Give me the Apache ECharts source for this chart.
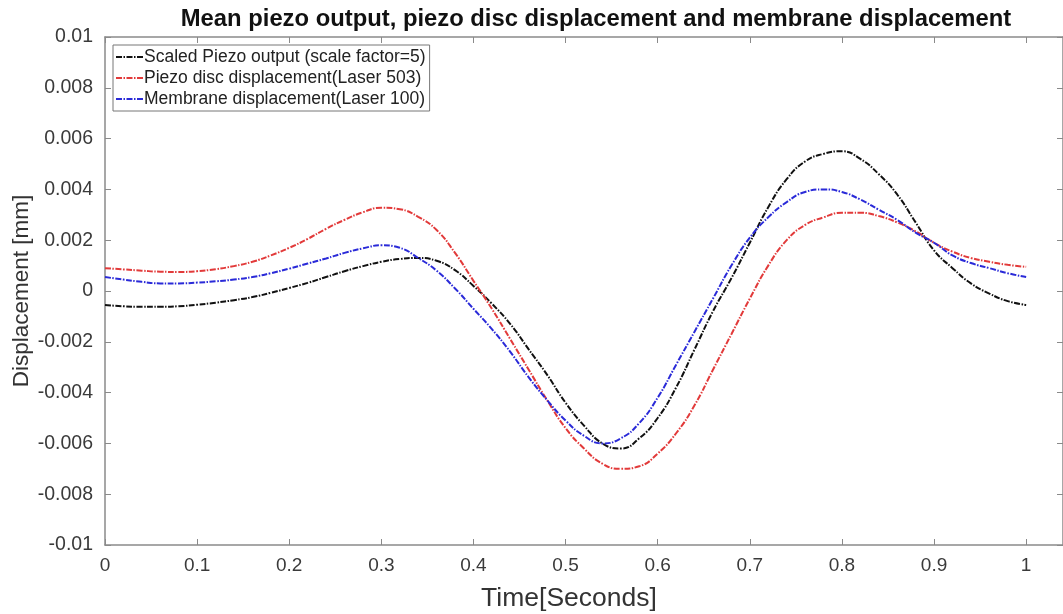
<!DOCTYPE html>
<html>
<head>
<meta charset="utf-8">
<script src="https://cdn.jsdelivr.net/npm/echarts@6/dist/echarts.min.js"></script>
<style>
html,body{margin:0;padding:0;background:#fff;}
#chart{width:1063px;height:614px;}
</style>
</head>
<body>
<div id="chart"></div>
<script>
// Time samples (seconds)
const timeValues = [0,0.02,0.04,0.06,0.08,0.10,0.12,0.14,0.16,0.18,0.20,0.22,0.24,0.26,0.28,0.30,0.32,0.34,0.36,0.38,0.40,0.42,0.44,0.46,0.48,0.50,0.52,0.54,0.56,0.58,0.60,0.62,0.64,0.66,0.68,0.70,0.72,0.74,0.76,0.78,0.80,0.82,0.84,0.86,0.88,0.90,0.92,0.94,0.96,0.98,1.00];

const scaledPiezo = [-0.00055,-0.0006,-0.00062,-0.00062,-0.0006,-0.00054,-0.00046,-0.00036,-0.00024,-0.00007,0.00012,0.00032,0.00055,0.00078,0.00098,0.00115,0.00126,0.0013,0.00119,0.00082,0.0002,-0.0005,-0.0013,-0.0023,-0.0033,-0.0044,-0.0053,-0.0060,-0.0062,-0.0058,-0.0050,-0.0038,-0.0023,-0.0008,0.0005,0.0019,0.0033,0.0044,0.0051,0.0054,0.0055,0.0052,0.0046,0.0038,0.0027,0.0016,0.0009,0.0003,-0.0001,-0.0004,-0.00055];

const piezoDisc = [0.0009,0.00085,0.0008,0.00076,0.00075,0.00078,0.00086,0.00098,0.00115,0.0014,0.0017,0.00205,0.00245,0.0028,0.0031,0.00328,0.00322,0.00292,0.0024,0.0015,0.0004,-0.0007,-0.0019,-0.0031,-0.0043,-0.0054,-0.0062,-0.0068,-0.0070,-0.0069,-0.0064,-0.0056,-0.0045,-0.0031,-0.0017,-0.0003,0.0010,0.0020,0.0026,0.0029,0.00308,0.00308,0.00295,0.0027,0.00235,0.0019,0.00155,0.0013,0.00115,0.00103,0.00095];

const membrane = [0.00055,0.00045,0.00036,0.0003,0.0003,0.00033,0.00038,0.00045,0.00055,0.0007,0.00088,0.00108,0.00128,0.0015,0.00168,0.0018,0.0017,0.0013,0.0008,0.0001,-0.0007,-0.0015,-0.0024,-0.0034,-0.0043,-0.0051,-0.0057,-0.0060,-0.0058,-0.0052,-0.0042,-0.0029,-0.0016,-0.0003,0.0010,0.0021,0.0029,0.0035,0.0039,0.0040,0.0039,0.0036,0.0032,0.0028,0.0023,0.0019,0.0014,0.0011,0.0009,0.0007,0.00055];

const seriesNames = ['Scaled Piezo output (scale factor=5)','Piezo disc displacement(Laser 503)','Membrane displacement(Laser 100)'];
const seriesColors = ['#111111','#e23a3a','#2a2ad8'];

const pairs = arr => timeValues.map((t,i)=>[t,arr[i]]);
const font = "'Liberation Sans', Arial, Helvetica, sans-serif";
const axisGray = '#8a8a8a';
const labelColor = '#3a3a3a';

const mkSeries = (name, data, color) => ({
  name, type:'line', data:pairs(data), smooth:true, showSymbol:false, symbol:'none',
  lineStyle:{color, width:2, type:[6,1.5,1.5,1.5]}, itemStyle:{color}
});

const chart = echarts.init(document.getElementById('chart'), null, {renderer:'canvas'});
chart.setOption({
  backgroundColor:'#fff',
  animation:false,
  title:{
    text:'Mean piezo output, piezo disc displacement and membrane displacement',
    left:591, top:2, textAlign:'center',
    textStyle:{fontFamily:font, fontWeight:'bold', fontSize:23.8, color:'#111'}
  },
  legend:{
    orient:'vertical', left:113, top:45,
    backgroundColor:'#fff', borderColor:'#777', borderWidth:1,
    padding:[3,4,3,2], itemGap:3, itemWidth:27, itemHeight:15,
    itemStyle:{opacity:0},
    textStyle:{fontFamily:font, fontSize:17.5, color:'#222', padding:[0,0,0,-4]},
    data:seriesNames
  },
  grid:{left:105, top:37, width:958, height:508, containLabel:false, outerBoundsMode:'none'},
  xAxis:[{
    type:'value', min:0, max:1.04, interval:0.1,
    name:'Time[Seconds]', nameLocation:'middle', nameGap:40, nameMoveOverlap:false,
    nameTextStyle:{fontFamily:font, fontSize:26.5, color:'#333', padding:[0,30,0,0]},
    axisLine:{show:true, onZero:false, lineStyle:{color:axisGray, width:1.5}},
    axisTick:{show:true, inside:true, length:6, lineStyle:{color:axisGray}},
    axisLabel:{fontFamily:font, fontSize:19, color:labelColor, margin:11, showMaxLabel:false,
      formatter:v=>{const r=Math.round(v*10)/10; return Math.abs(v-r)<1e-6 ? String(r) : '';}},
    splitLine:{show:false}
  },{
    type:'value', position:'top', min:0, max:1.04, interval:0.1,
    axisLine:{show:true, onZero:false, lineStyle:{color:axisGray, width:1.5}},
    axisTick:{show:true, inside:true, length:6, lineStyle:{color:axisGray}},
    axisLabel:{show:false}, splitLine:{show:false}
  }],
  yAxis:[{
    type:'value', min:-0.01, max:0.01, interval:0.002,
    name:'Displacement [mm]', nameLocation:'middle', nameGap:72, nameRotate:90, nameMoveOverlap:false,
    nameTextStyle:{fontFamily:font, fontSize:22.5, color:'#333'},
    axisLine:{show:true, onZero:false, lineStyle:{color:axisGray, width:1.5}},
    axisTick:{show:true, inside:true, length:6, lineStyle:{color:axisGray}},
    axisLabel:{fontFamily:font, fontSize:19.5, color:labelColor, margin:12,
      formatter:v=>String(parseFloat(v.toFixed(4)))},
    splitLine:{show:false}
  },{
    type:'value', position:'right', min:-0.01, max:0.01, interval:0.002,
    axisLine:{show:true, onZero:false, lineStyle:{color:axisGray, width:1.5}},
    axisTick:{show:true, inside:true, length:6, lineStyle:{color:axisGray}},
    axisLabel:{show:false}, splitLine:{show:false}
  }],
  series:[
    mkSeries(seriesNames[0], scaledPiezo, seriesColors[0]),
    mkSeries(seriesNames[1], piezoDisc, seriesColors[1]),
    mkSeries(seriesNames[2], membrane, seriesColors[2])
  ]
});
</script>
</body>
</html>
